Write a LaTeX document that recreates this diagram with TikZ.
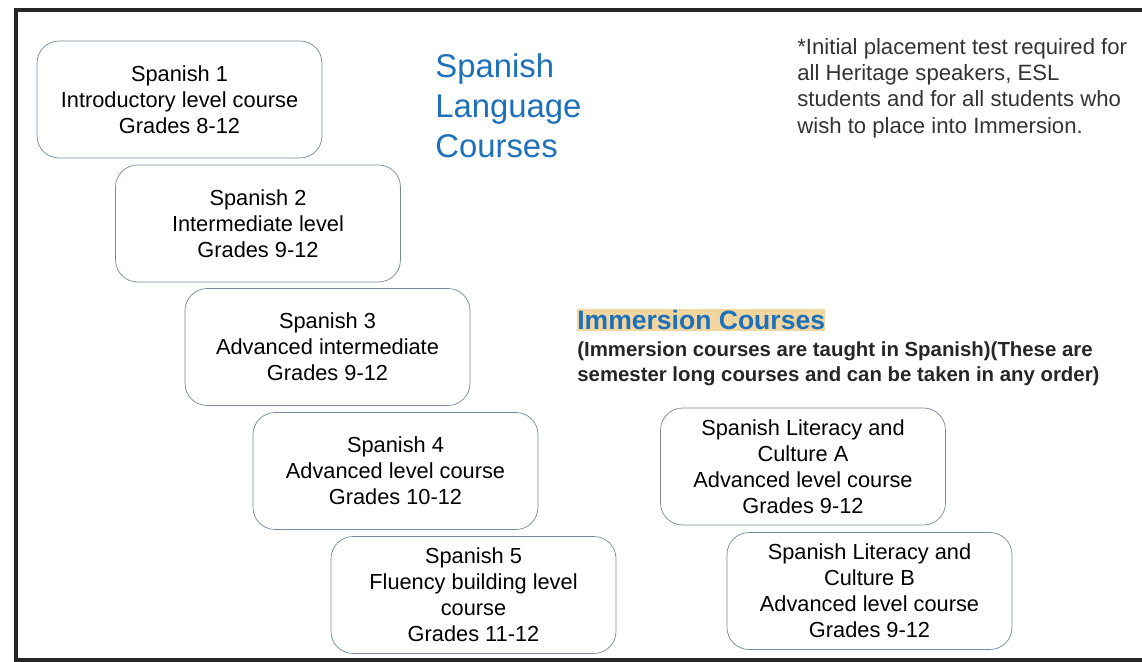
\documentclass[tikz,border=0pt]{standalone}
\usepackage{fontspec}
\setmainfont{Liberation Sans}
\definecolor{langblue}{RGB}{30,112,186}
\definecolor{edgegrey}{RGB}{118,136,156}
\definecolor{marker}{RGB}{242,214,160}
\newcommand{\titlecol}{langblue}
\newcommand{\boxcol}{edgegrey}
\usepackage{tikz}

\begin{document}
\begin{tikzpicture}[x=0.02cm, y=-0.02cm,
    course/.style={draw=\boxcol, thin, rounded corners=0.44cm, align=center,
      minimum width=5.7cm, minimum height=2.34cm, inner sep=2pt,
      font=\fontsize{12.4}{14.8}\selectfont}]

    \useasboundingbox (0, 0) rectangle (1142, 662);

    % frame of the scanned page
    \draw[draw=black!85, line width=2.4pt] (1150, 10) -- (16, 10) -- (16, 660) -- (1150, 660);

    % main sequence
    \node[course] (sp1) at (179.5, 99.5) {Spanish 1\\Introductory level course\\Grades 8-12};
    \node[course] (sp2) at (258, 223.5) {Spanish 2\\Intermediate level\\Grades 9-12};
    \node[course] (sp3) at (327.5, 347) {Spanish 3\\Advanced intermediate\\Grades 9-12};
    \node[course] (sp4) at (395.5, 471) {Spanish 4\\Advanced level course\\Grades 10-12};
    \node[course] (sp5) at (473.5, 595) {Spanish 5\\Fluency building level\\course\\Grades 11-12};

    % immersion
    \node[course] (litA) at (803, 466.5) {Spanish Literacy and\\Culture A\\Advanced level course\\Grades 9-12};
    \node[course] (litB) at (869.5, 591) {Spanish Literacy and\\Culture B\\Advanced level course\\Grades 9-12};

    \node[\titlecol, anchor=west, align=left, inner sep=0pt,
      font=\fontsize{18.7}{22.7}\selectfont] (title) at (435, 106) {Spanish\\Language\\Courses};

    \node[anchor=west, align=left, inner sep=0pt, text=black!80,
      font=\fontsize{12.6}{15}\selectfont] (note) at (797, 88)
      {*Initial placement test required for\\all Heritage speakers, ESL\\students and for all students who\\wish to place into Immersion.};

    \node[\titlecol, fill=marker, anchor=west, inner xsep=0pt, inner ysep=1pt,
      font=\fontsize{15.1}{18}\bfseries] (imm) at (577, 320) {Immersion Courses};
    \node[anchor=west, align=left, inner sep=0pt, text=black!85,
      font=\fontsize{11.6}{14.2}\bfseries] (immnote) at (577, 363.5)
      {(Immersion courses are taught in Spanish)(These are\\semester long courses and can be taken in any order)};

\end{tikzpicture}
\end{document}
